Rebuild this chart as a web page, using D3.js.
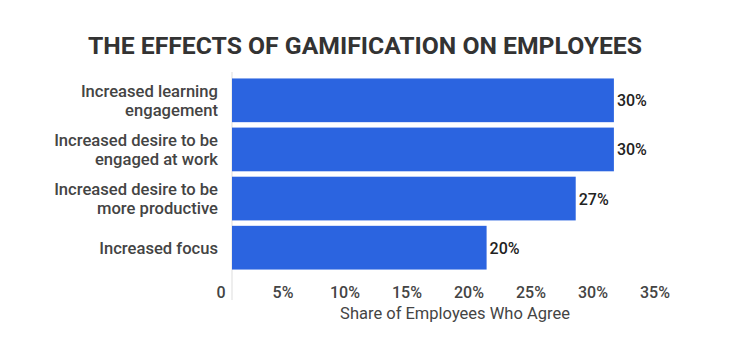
<!DOCTYPE html>
<html><head><meta charset="utf-8">
<script src="https://cdn.jsdelivr.net/npm/d3@7"></script>
<style>body{margin:0;background:#fff}svg{display:block}</style>
</head><body>
<script>
const categories = [
  ["Increased learning", "engagement"],
  ["Increased desire to be", "engaged at work"],
  ["Increased desire to be", "more productive"],
  ["Increased focus"]
];
const values = [30, 30, 27, 20];
const valueLabels = ["30%", "30%", "27%", "20%"];
const tickLabels = ["0", "5%", "10%", "15%", "20%", "25%", "30%", "35%"];
const title = "THE EFFECTS OF GAMIFICATION ON EMPLOYEES";
const axisTitle = "Share of Employees Who Agree";

const W = 756, H = 337;
const svg = d3.select("body").append("svg").attr("width", W).attr("height", H);

const x = d3.scaleLinear().domain([0, 35]).range([232, 232 + 35 * 12.73]);
const y = d3.scaleBand().domain(d3.range(categories.length)).range([76, 272]).paddingInner(0.11).paddingOuter(0.05);
const xt = d3.scalePoint().domain(tickLabels).range([221, 655]);

svg.append("text").attr("x", 365).attr("y", 54).attr("text-anchor", "middle")
  .attr("font-family", "Roboto").attr("font-weight", 700).attr("font-size", 24)
  .attr("fill", "#333").attr("textLength", 554).attr("lengthAdjust", "spacingAndGlyphs").text(title);

svg.append("line").attr("x1", 232).attr("x2", 232).attr("y1", 72).attr("y2", 300)
  .attr("stroke", "#ddd").attr("stroke-width", 1);

svg.selectAll("rect.bar").data(values).join("rect").attr("class", "bar")
  .attr("x", x(0)).attr("y", (d, i) => y(i)).attr("width", d => x(d) - x(0)).attr("height", y.bandwidth())
  .attr("fill", "#2b64e0");

svg.selectAll("text.val").data(values).join("text").attr("class", "val")
  .attr("x", d => x(d) + 3).attr("y", (d, i) => y(i) + y.bandwidth() / 2 + 6)
  .attr("font-family", "Roboto").attr("font-weight", 500).attr("font-size", 16).attr("fill", "#222")
  .text((d, i) => valueLabels[i]);

const cat = svg.selectAll("text.cat").data(categories).join("text").attr("class", "cat")
  .attr("text-anchor", "end").attr("font-family", "Roboto").attr("font-weight", 500)
  .attr("font-size", 16.6).attr("fill", "#444");
cat.each(function(lines, i) {
  const cy = y(i) + y.bandwidth() / 2;
  const lh = 19;
  const y0 = cy - (lines.length - 1) * lh / 2 + 6;
  d3.select(this).selectAll("tspan").data(lines).join("tspan")
    .attr("x", 218).attr("y", (l, j) => y0 + j * lh).text(l => l);
});

svg.selectAll("text.tick").data(tickLabels).join("text").attr("class", "tick")
  .attr("x", d => xt(d)).attr("y", 298).attr("text-anchor", "middle")
  .attr("font-family", "Roboto").attr("font-weight", 500).attr("font-size", 16).attr("fill", "#444")
  .text(d => d);

svg.append("text").attr("x", 455).attr("y", 319).attr("text-anchor", "middle")
  .attr("font-family", "Roboto").attr("font-size", 16.5).attr("fill", "#444").text(axisTitle);
</script>
</body></html>
